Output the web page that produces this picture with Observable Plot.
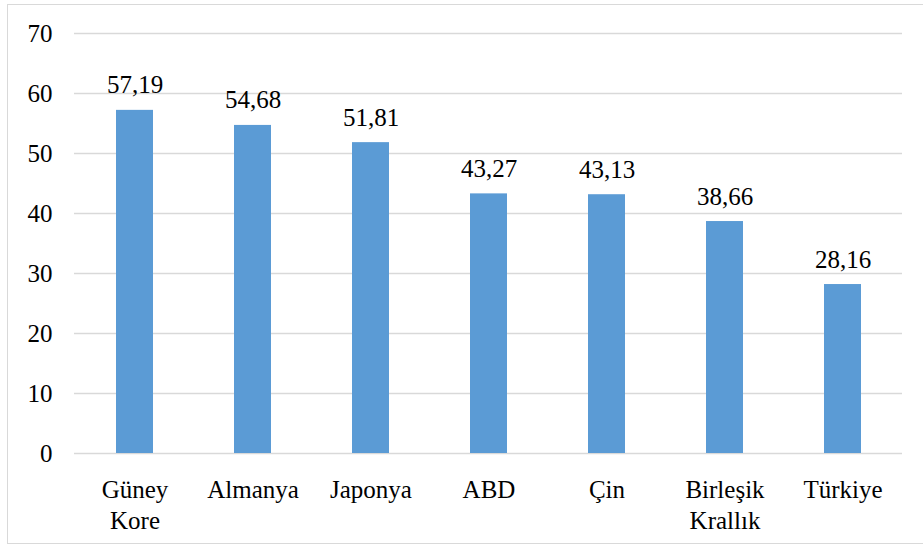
<!DOCTYPE html>
<html><head><meta charset="utf-8">
<script src="https://cdn.jsdelivr.net/npm/d3@7"></script>
<script src="https://cdn.jsdelivr.net/npm/@observablehq/plot@0.6"></script>
</head><body style="margin:0">
<div id="c" style="position:relative;width:923px;height:547px;overflow:hidden"><div style="position:absolute;left:7px;top:4px;width:930px;height:540px;border:1.5px solid #d9d9d9;box-sizing:border-box"></div></div>
<script>
const countries = ["Güney Kore", "Almanya", "Japonya", "ABD", "Çin", "Birleşik Krallık", "Türkiye"];
const values = [57.19, 54.68, 51.81, 43.27, 43.13, 38.66, 28.16];
const yTicks = [0, 10, 20, 30, 40, 50, 60, 70];

const data = countries.map((c, i) => ({country: c, value: values[i]}));
const labelLines = {"Güney Kore": "Güney\nKore", "Birleşik Krallık": "Birleşik\nKrallık"};
const fmt = v => v.toFixed(2).replace(".", ",");

const p = Plot.plot({
  width: 923,
  height: 547,
  marginLeft: 74,
  marginRight: 21,
  marginTop: 33,
  marginBottom: 94,
  style: "font-family: 'Liberation Serif', 'DejaVu Serif', serif; font-size: 25px;",
  x: {domain: countries, paddingInner: 0.69, paddingOuter: 0.345, label: null},
  y: {domain: [0, 70], label: null},
  marks: [
    Plot.ruleY(yTicks, {stroke: "#d9d9d9", strokeWidth: 1.5}),
    Plot.barY(data, {x: "country", y: "value", fill: "#5b9bd5"}),
    Plot.text(data, {x: "country", y: "value", text: d => fmt(d.value), dy: -25, fontSize: 25, fill: "#000", lineAnchor: "middle"}),
    Plot.axisX({tickSize: 0, tickPadding: 22, fontSize: 25, lineHeight: 1.24, fill: "#000", label: null, tickFormat: d => labelLines[d] || d}),
    Plot.axisY({ticks: yTicks, tickSize: 0, tickPadding: 22, fontSize: 25, fill: "#000", label: null})
  ]
});
p.style.position = "absolute";
p.style.left = "0px";
p.style.top = "0px";
document.getElementById("c").appendChild(p);
</script>
</body></html>
